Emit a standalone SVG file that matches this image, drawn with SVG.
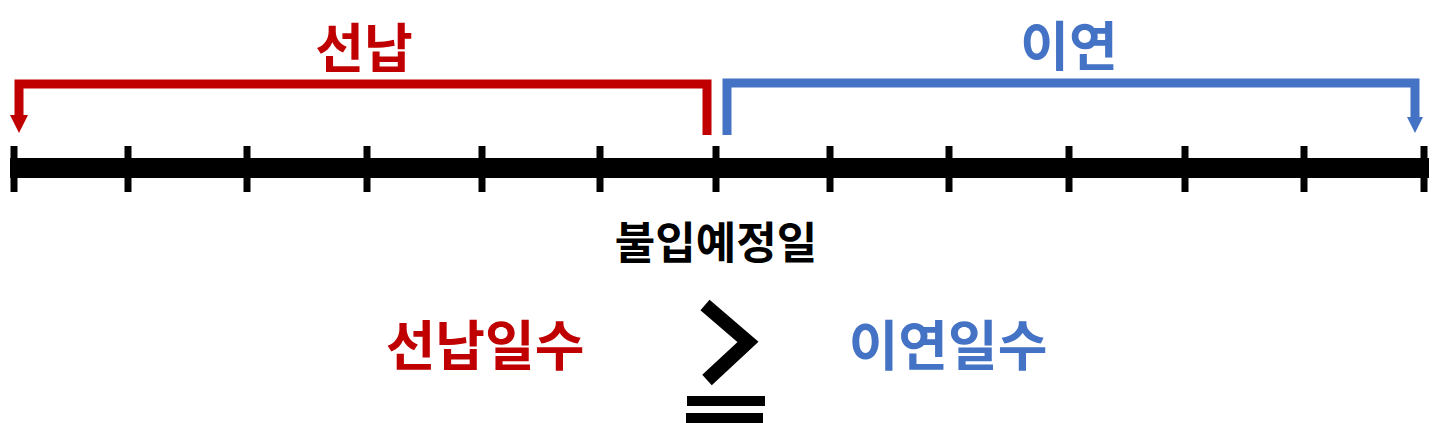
<svg xmlns="http://www.w3.org/2000/svg" width="1434" height="423" viewBox="0 0 1434 423">
<style>
.t{font-family:"Noto Sans CJK KR","Noto Sans",sans-serif;font-weight:bold;text-anchor:middle}
.red{fill:#C00000}
.blue{fill:#4472C4}
.blk{fill:#000}
.tick{stroke:#000;stroke-width:7}
</style>
<rect width="1434" height="423" fill="#fff"/>
<g id="timeline">
<rect x="10" y="158" width="1419" height="20" fill="#000"/>
<g class="tick">
<line x1="14" y1="146" x2="14" y2="192"/>
<line x1="128" y1="146" x2="128" y2="192"/>
<line x1="247" y1="146" x2="247" y2="192"/>
<line x1="367" y1="146" x2="367" y2="192"/>
<line x1="482" y1="146" x2="482" y2="192"/>
<line x1="600" y1="146" x2="600" y2="192"/>
<line x1="716" y1="146" x2="716" y2="192"/>
<line x1="830" y1="146" x2="830" y2="192"/>
<line x1="949" y1="146" x2="949" y2="192"/>
<line x1="1069" y1="146" x2="1069" y2="192"/>
<line x1="1185" y1="146" x2="1185" y2="192"/>
<line x1="1304" y1="146" x2="1304" y2="192"/>
<line x1="1424" y1="146" x2="1424" y2="192"/>
</g>
</g>
<g id="connectors">
<path d="M707 135 V84 H19 V117" fill="none" stroke="#C00000" stroke-width="9"/>
<polygon points="10,115 28,115 19,133" fill="#C00000"/>
<path d="M727 135 V83 H1415 V119" fill="none" stroke="#4472C4" stroke-width="9"/>
<polygon points="1407,117 1423,117 1415,133" fill="#4472C4"/>
</g>
<g id="label-seonnap"><text class="t red" x="364" y="68" font-size="53">선납</text></g>
<g id="label-iyeon"><text class="t blue" x="1069" y="66" font-size="53">이연</text></g>
<g id="label-date"><text class="t blk" x="716" y="259" font-size="44">불입예정일</text></g>
<g id="label-seonnap-days"><text class="t red" x="485" y="366" font-size="54">선납일수</text></g>
<g id="label-iyeon-days"><text class="t blue" x="948" y="366" font-size="54">이연일수</text></g>
<g id="geq">
<polyline points="705,305 748,342 707,380" fill="none" stroke="#000" stroke-width="14" stroke-linejoin="miter"/>
<rect x="687" y="396" width="78" height="10" fill="#000"/>
<rect x="686" y="413" width="77" height="10" fill="#000"/>
</g>
</svg>
